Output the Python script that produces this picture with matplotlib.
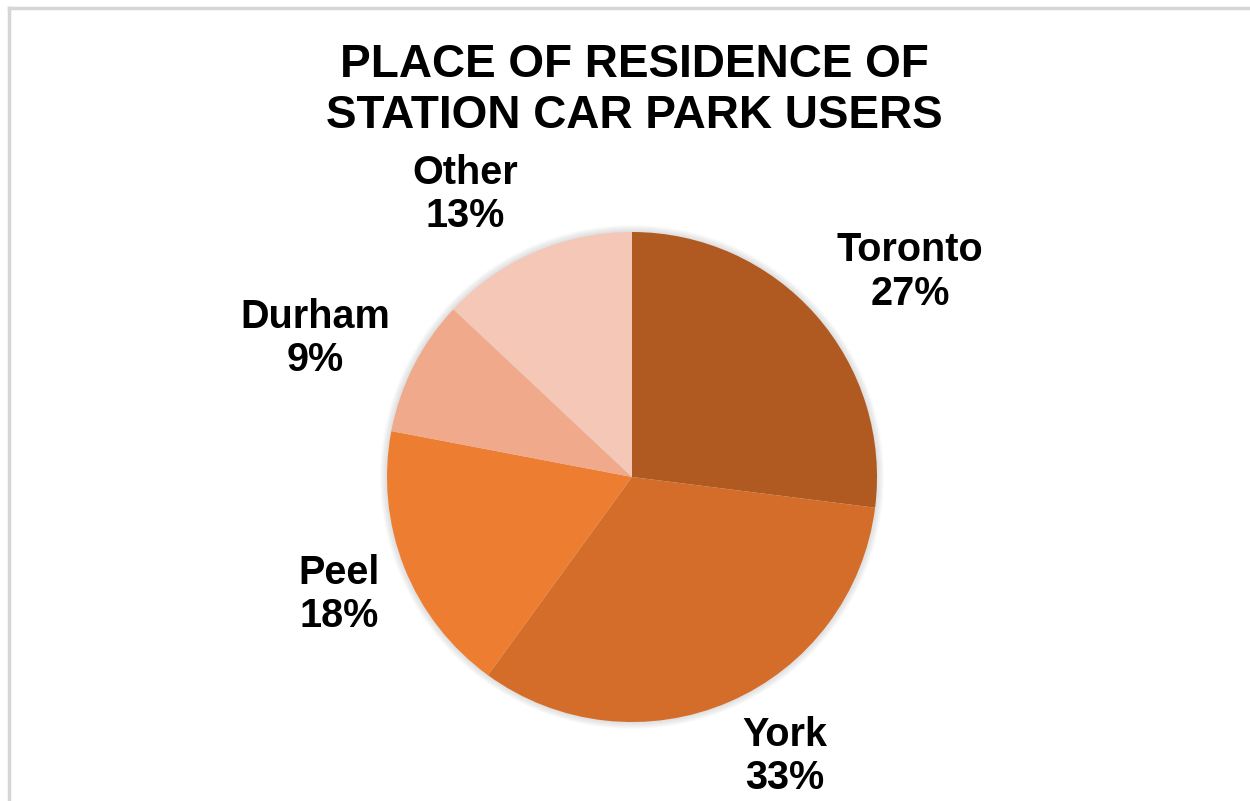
import matplotlib.pyplot as plt
import numpy as np
from matplotlib.patches import Circle
from matplotlib.lines import Line2D

# ---------------------------------------------------------------- #
# Data
# ---------------------------------------------------------------- #
regions = ['Toronto', 'York', 'Peel', 'Durham', 'Other']
shares = [27, 33, 18, 9, 13]
colors = ['#B05A22', '#D46D2A', '#ED7D31', '#F0A98A', '#F4C7B7']

# label placement tweaks (radial distance, angle nudge in degrees)
label_dist = [1.41, 1.30, 1.29, 1.41, 1.34]
label_nudge = [-5.0, 5.3, 0.3, 3.3, 7.2]

plt.rcParams['font.family'] = ['Liberation Sans', 'DejaVu Sans']

# ---------------------------------------------------------------- #
# Figure
# ---------------------------------------------------------------- #
W, H = 1250, 801
cx, cy, r = 632, 477, 245   # pie centre / radius in pixels

fig = plt.figure(figsize=(W / 100, H / 100), dpi=100)
ax = fig.add_axes([0, 0, 1, 1])
ax.set_aspect('equal')

# soft shadow around the pie
for k in range(8):
    ax.add_patch(Circle((0, 0), 1 + 0.004 * k, color='#808080', alpha=0.035, lw=0, zorder=0))

wedges, _ = ax.pie(shares, colors=colors, startangle=90, counterclock=False,
                   radius=1, center=(0, 0), frame=True,
                   wedgeprops=dict(linewidth=0))
for w in wedges:
    w.set_zorder(2)

for w, name, val, d, nudge in zip(wedges, regions, shares, label_dist, label_nudge):
    ang = np.deg2rad((w.theta1 + w.theta2) / 2 + nudge)
    ax.text(d * np.cos(ang), d * np.sin(ang), f'{name}\n{val}%',
            ha='center', va='center', fontsize=28.5, fontweight='bold',
            color='black', linespacing=1.17)

ax.set_xlim(-cx / r, (W - cx) / r)
ax.set_ylim(-(H - cy) / r, cy / r)
ax.axis('off')

fig.text(634 / W, 1 - 90.5 / H, 'PLACE OF RESIDENCE OF\nSTATION CAR PARK USERS',
         ha='center', va='center', fontsize=33, fontweight='bold',
         color='black', linespacing=1.21)

# thin grey frame on top and left edge
fig.add_artist(Line2D([8.5 / W, 8.5 / W], [0, 1 - 7.5 / H], transform=fig.transFigure,
                      color='#D6D6D6', lw=2.5))
fig.add_artist(Line2D([8.5 / W, 1], [1 - 7.5 / H, 1 - 7.5 / H], transform=fig.transFigure,
                      color='#D6D6D6', lw=2.5))

fig.savefig('out.png', dpi=100, facecolor='white')
